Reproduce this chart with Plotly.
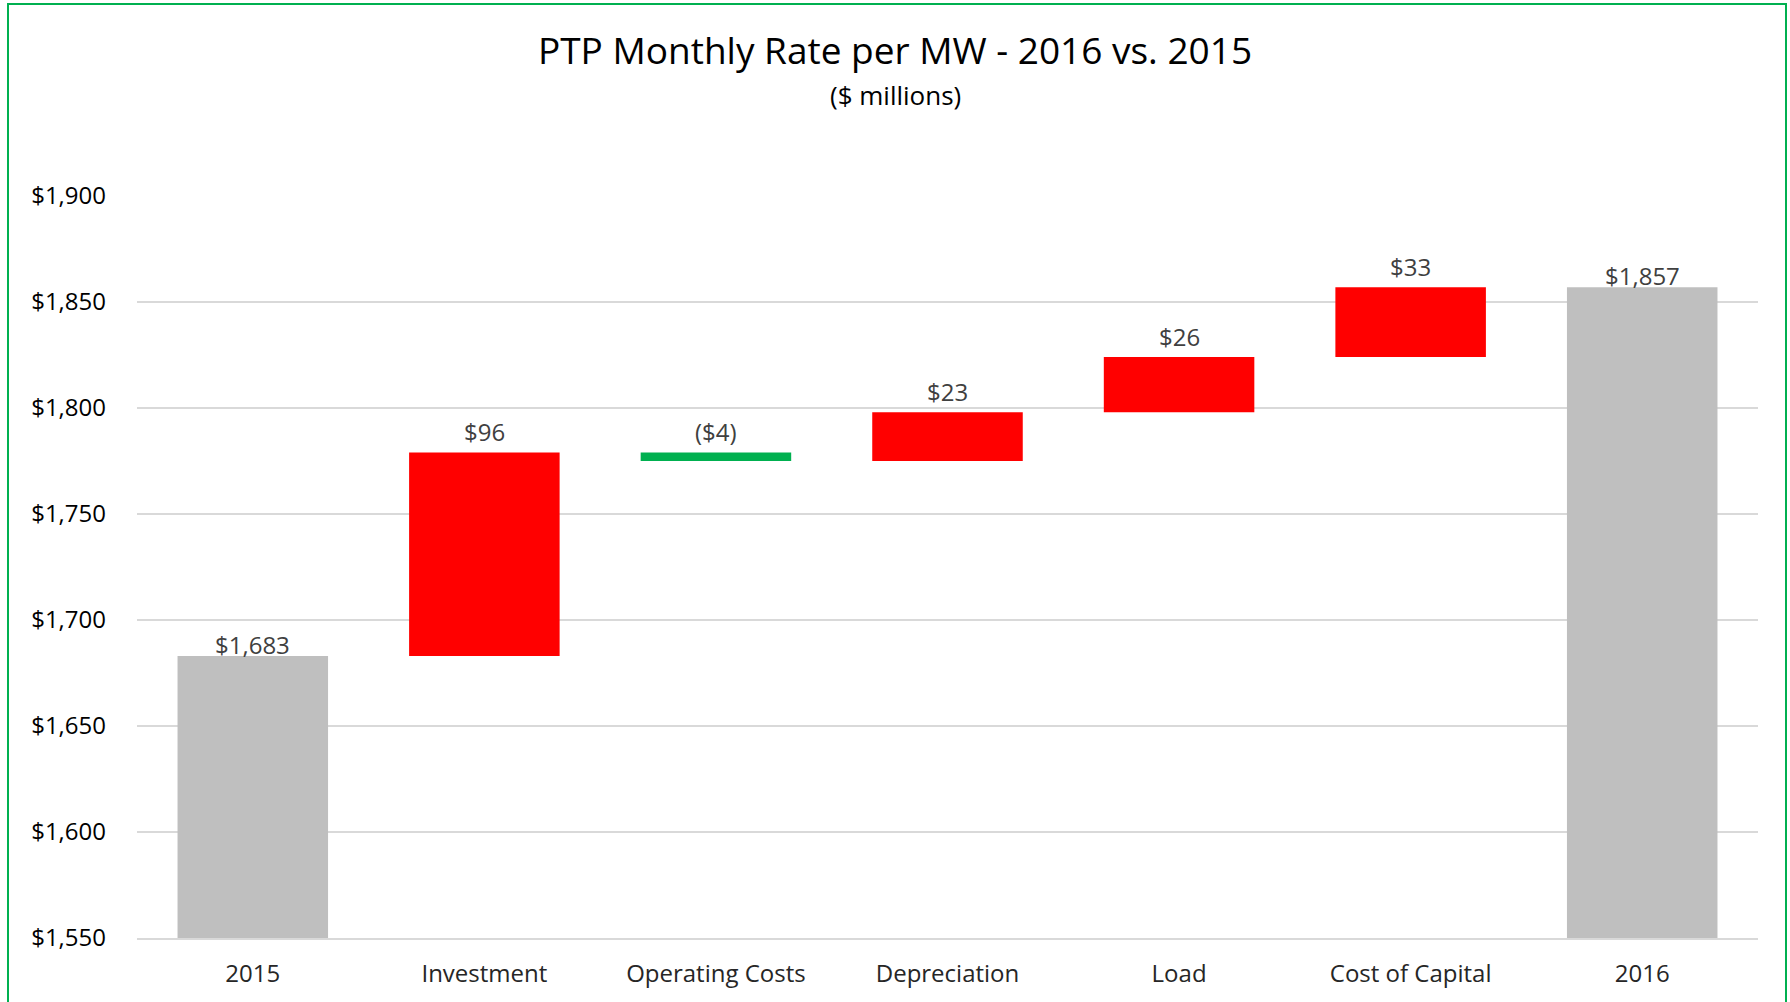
import plotly.graph_objects as go

categories = ["2015", "Investment", "Operating Costs", "Depreciation", "Load", "Cost of Capital", "2016"]
values = [1683, 96, -4, 23, 26, 33, 1857]
measures = ["absolute", "relative", "relative", "relative", "relative", "relative", "total"]
labels = ["$1,683", "$96", "($4)", "$23", "$26", "$33", "$1,857"]
tick_vals = [1550, 1600, 1650, 1700, 1750, 1800, 1850, 1900]
tick_text = ["$1,550", "$1,600", "$1,650", "$1,700", "$1,750", "$1,800", "$1,850", "$1,900"]

FONT = "Open Sans"
W, H = 1790, 1002
ML, MR, MT, MB = 137, 32, 196, 64

fig = go.Figure(go.Waterfall(
    x=categories, y=values, measure=measures,
    increasing=dict(marker=dict(color="#FF0000")),
    decreasing=dict(marker=dict(color="#00B050")),
    totals=dict(marker=dict(color="#BFBFBF")),
    connector=dict(visible=False),
    hoverinfo="skip",
    width=0.65,
))

# label positions derived from the data (x given as category index)
run = 0
for i, (v, m, lab) in enumerate(zip(values, measures, labels)):
    if m == "absolute":
        run = v
        top = v
        shift = 12
    elif m == "total":
        top = run
        shift = 12
    else:
        start = run
        run = run + v
        top = max(start, run)
        shift = 21
    fig.add_annotation(x=i, y=top, text=lab, showarrow=False, yanchor="middle",
                       yshift=shift, font=dict(family=FONT, size=24, color="#404040"))

pw = W - ML - MR
ph = H - MT - MB
def px_x(x):
    return (x - ML) / pw
def px_y(y):
    return (H - MB - y) / ph

fig.add_shape(type="rect", xref="paper", yref="paper",
              x0=px_x(8), x1=px_x(1786), y0=px_y(1010), y1=px_y(4),
              line=dict(color="#00B050", width=2), fillcolor="rgba(0,0,0,0)", layer="below")

fig.add_annotation(xref="paper", yref="paper", x=px_x(W / 2), y=px_y(95), text="($ millions)",
                   showarrow=False, xanchor="center", yanchor="middle",
                   font=dict(family=FONT, size=26, color="#000000"))

fig.update_layout(
    width=W, height=H,
    margin=dict(l=ML, r=MR, t=MT, b=MB),
    paper_bgcolor="white", plot_bgcolor="white",
    showlegend=False,
    title=dict(text="PTP Monthly Rate per MW - 2016 vs. 2015",
               x=0.5, xref="container", xanchor="center", y=1 - 51/H, yanchor="middle",
               font=dict(family=FONT, size=37, color="#000000")),
    font=dict(family=FONT),
)
fig.update_xaxes(type="category", range=[-0.5, len(categories) - 0.5], automargin=False,
                 showgrid=False, showline=True, linecolor="#D9D9D9", linewidth=2, ticks="",
                 tickfont=dict(family=FONT, size=24, color="#262626"), ticklabelstandoff=13)
fig.update_yaxes(range=[1550, 1900], tickvals=tick_vals, ticktext=tick_text, automargin=False,
                 showgrid=True, gridcolor="#D9D9D9", gridwidth=1.5, zeroline=False,
                 showline=False, ticks="", ticklabelstandoff=30,
                 tickfont=dict(family=FONT, size=24, color="#000000"))

fig.write_html("out.html", config={"displayModeBar": False},
               post_script="document.body.style.margin='0px';document.body.style.overflow='hidden';")
